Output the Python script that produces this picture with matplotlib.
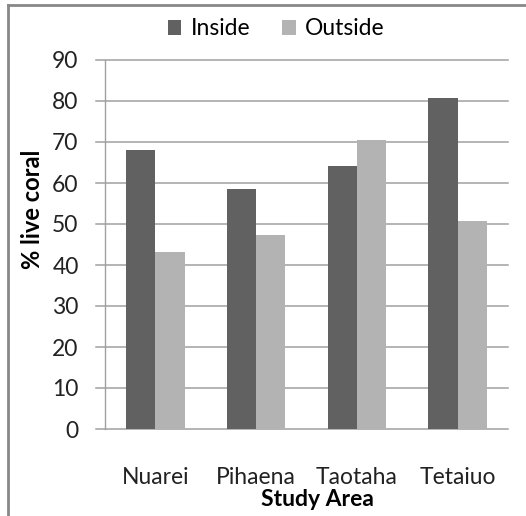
import matplotlib.pyplot as plt
import numpy as np

plt.rcParams['font.family'] = ['Lato', 'DejaVu Sans']

areas = ["Nuarei", "Pihaena", "Taotaha", "Tetaiuo"]
inside = [68.0, 58.6, 64.2, 80.7]
outside = [43.2, 47.4, 70.5, 50.7]
yticks = [0, 10, 20, 30, 40, 50, 60, 70, 80, 90]

fs = 16.5

fig = plt.figure(figsize=(5.26, 5.16), dpi=100)
ax = fig.add_axes([105 / 526, 87 / 516, 403 / 526, 369 / 516])

x = np.arange(len(areas))
w = 0.29
ax.bar(x - w / 2, inside, w, color='#616161', label='Inside', zorder=3)
ax.bar(x + w / 2, outside, w, color='#b3b3b3', label='Outside', zorder=3)

ax.set_xlim(-0.5, 3.5)
ax.set_ylim(0, 90)
ax.set_yticks(yticks)
ax.set_xticks(x)
ax.set_xticklabels(areas)

# grid lines drawn across and poking out left like the ticks
for t in yticks:
    ax.plot([-0.5 - 9 / 100.75, 3.5], [t, t], color='#a0a0a0', lw=1.1,
            clip_on=False, zorder=1)

for s in ['top', 'right', 'bottom']:
    ax.spines[s].set_visible(False)
ax.spines['left'].set_color('#a0a0a0')
ax.spines['left'].set_linewidth(1.0)

ax.tick_params(axis='y', length=0, pad=19, labelsize=fs)
ax.tick_params(axis='x', length=0, pad=27, labelsize=fs)
for lbl in ax.get_yticklabels() + ax.get_xticklabels():
    lbl.set_color('#222222')

ax.set_ylabel('% live coral', fontsize=17, fontweight='bold')
ax.yaxis.set_label_coords(-0.152, 0.596)
ax.set_xlabel('Study Area', fontsize=fs, fontweight='bold')
ax.xaxis.set_label_coords(0.528, -0.162)

leg = fig.legend(loc='center', bbox_to_anchor=(0.525, 0.944), ncol=2,
                 frameon=False, fontsize=fs, handlelength=0.6,
                 handleheight=0.6, handletextpad=0.4, columnspacing=1.4)

# outer frame: only top and left edges visible
fig.add_artist(plt.Line2D([8 / 526, 1], [1 - 5 / 516, 1 - 5 / 516],
                          transform=fig.transFigure, color='#888888', lw=2))
fig.add_artist(plt.Line2D([8 / 526, 8 / 526], [0, 1 - 5 / 516],
                          transform=fig.transFigure, color='#888888', lw=2))

fig.savefig('out.png', dpi=100)
